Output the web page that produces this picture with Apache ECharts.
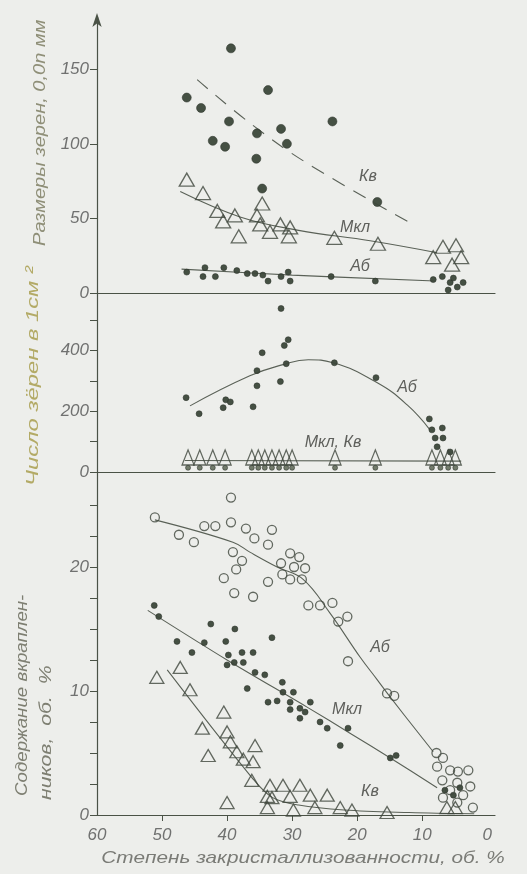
<!DOCTYPE html>
<html><head><meta charset="utf-8">
<script src="https://cdn.jsdelivr.net/npm/echarts@6/dist/echarts.min.js"></script>
<style>html,body{margin:0;padding:0;background:#edeeeb;}#c{width:527px;height:874px;}</style>
</head><body><div id="c"></div>
<script>
// ---- axes ----
const xTickLabels = [60, 50, 40, 30, 20, 10, 0];
const xTicks = [50, 40, 30, 20, 10];
const topYTicks = [0, 50, 100, 150];
const midYTicks = [0, 100, 200, 300, 400, 500];
const midYLabels = [0, 200, 400];
const botYTicks = [0, 2.5, 5, 7.5, 10, 12.5, 15, 17.5, 20, 22.5, 25];
const botYLabels = [0, 10, 20];

// ---- top panel: grain size ----
const topKvDots = [[46.2,131],[44.0,124],[39.4,164],[39.7,115],[42.2,102],[40.3,98],[35.4,107],[35.5,90],[34.6,70],[33.7,136],[31.7,110],[30.8,100],[23.8,115],[16.9,61]];
const topKvLine = [[44.6,143],[36.5,114],[27.7,87],[11.4,46]];
const topMklTri = [[46.2,76],[43.7,67],[41.5,55],[38.8,52],[40.6,48],[38.2,38],[34.6,60],[35.4,52],[34.9,46],[33.4,41],[31.8,46],[30.3,44],[30.5,38],[23.5,37],[16.8,33],[8.3,24],[6.8,31],[4.8,32],[4.0,24],[5.4,19]];
const topMklLine = [[47.2,68],[38,51],[29,42],[18,35],[7.7,27]];
const topAbDots = [[46.2,14],[43.7,11],[43.4,17],[40.5,17],[41.8,11],[38.5,15],[36.9,13],[35.7,13],[34.5,12],[33.7,8],[31.7,11],[30.6,14],[30.3,8],[24.0,11],[17.2,8],[8.3,9],[6.9,11],[5.7,7],[4.6,4],[3.7,7],[6.0,2],[5.2,10]];
const topAbLine = [[47,16],[30,12],[8,8]];

// ---- middle panel: grains per cm2 ----
const midAbDots = [[46.3,245],[44.3,192],[40.2,238],[40.6,212],[39.5,231],[35.4,334],[35.4,284],[36.0,215],[34.6,393],[31.7,539],[30.6,436],[31.2,417],[30.9,357],[31.8,298],[23.5,360],[17.1,311],[8.9,175],[8.5,139],[6.9,145],[8.0,112],[6.8,112],[7.7,83],[5.7,66]];
const midAbLine = [[45.7,218],[36.5,317],[31.4,354],[27.5,370],[23.7,360],[16.9,294],[12.3,221],[8.8,139]];
const midMklKvTri = [[46.0,48],[44.2,48],[42.2,48],[40.3,48],[36.2,48],[35.2,48],[34.2,48],[33.1,48],[32.0,48],[30.9,48],[30.0,48],[23.4,48],[17.2,48],[8.5,48],[7.2,48],[6.0,48],[4.9,48]];
const midKvDots = [[46.0,14],[44.2,14],[42.2,14],[40.3,14],[36.2,14],[35.2,14],[34.2,14],[33.1,14],[32.0,14],[30.9,14],[30.0,14],[23.4,14],[17.2,14],[8.5,14],[7.2,14],[6.0,14],[4.9,14]];
const midMklKvLine = [[46.5,38],[4,36]];

// ---- bottom panel: phenocryst content ----
const botAbCircles = [[51.1,24.0],[47.4,22.6],[45.1,22.0],[43.5,23.3],[41.8,23.3],[39.4,25.6],[39.4,23.6],[37.1,23.1],[35.8,22.3],[39.1,21.2],[37.7,20.5],[38.6,19.8],[40.5,19.1],[38.9,17.9],[36.0,17.6],[33.7,18.8],[33.7,21.8],[33.1,23.0],[30.3,21.1],[28.9,20.8],[31.7,20.3],[29.7,20.0],[28.0,19.9],[31.5,19.4],[30.3,19.0],[28.5,19.0],[27.5,16.9],[25.7,16.9],[23.8,17.1],[22.9,15.6],[21.5,16.0],[21.4,12.4],[15.4,9.8],[14.3,9.6],[7.8,5.0],[6.8,4.6],[7.7,3.9],[5.7,3.6],[4.5,3.5],[2.9,3.6],[6.9,2.8],[4.6,2.6],[2.6,2.3],[5.7,2.0],[3.7,1.6],[6.8,1.4],[2.2,0.6],[4.6,1.0]];
const botAbLine = [[51.1,23.8],[39.1,22.0],[36.5,21.2],[32.3,20.0],[28.3,19.0],[24.2,16.3],[19.5,12.7],[16.9,10.9],[14.9,9.5],[8.3,5.1]];
const botMklDots = [[51.2,16.9],[50.5,16.0],[42.5,15.4],[38.8,15.0],[47.7,14.0],[43.5,13.9],[40.2,14.0],[45.4,13.1],[39.8,12.9],[37.7,13.1],[36.0,13.1],[33.1,14.3],[40.0,12.1],[38.9,12.3],[37.5,12.3],[35.7,11.5],[34.2,11.3],[36.9,10.2],[31.5,10.7],[31.4,9.9],[29.8,9.9],[33.7,9.1],[32.3,9.2],[30.3,9.1],[27.2,9.1],[30.3,8.5],[28.8,8.6],[28.0,8.3],[28.8,7.8],[25.7,7.5],[24.6,7.0],[21.4,7.0],[22.6,5.6],[14.9,4.6],[14.0,4.8],[6.5,2.0],[5.2,1.6],[4.2,2.2]];
const botMklLine = [[52.2,16.5],[40,12.5],[27.7,8.7],[21.1,6.6],[14.9,4.6],[7.7,2.2]];
const botKvTri = [[50.8,11.1],[47.2,11.9],[45.7,10.1],[40.5,8.3],[43.8,7.0],[40.0,6.7],[39.5,5.9],[35.7,5.6],[38.5,5.1],[37.5,4.5],[42.9,4.8],[36.0,4.3],[36.2,2.8],[40.0,1.0],[33.8,1.5],[33.8,0.6],[33.4,2.4],[31.4,2.4],[28.8,2.4],[33.1,1.4],[30.3,1.5],[27.2,1.6],[24.6,1.6],[29.8,0.4],[26.5,0.6],[22.6,0.6],[20.8,0.4],[15.4,0.2],[6.2,0.6],[4.9,0.6]];
const botKvLine = [[49.2,11.7],[36,2.9],[33,1.4],[29,0.8],[22,0.4],[12,0.2],[2,0.1]];

const INK = '#4a5246';
const DOT = '#3c473a';
const TXT = '#707170';
const BG = '#edeeeb';
const FONT = 'Liberation Sans';

function xAx(i, bottom) {
  return {
    type: 'value', gridIndex: i, min: -1.2, max: 60, inverse: true,
    axisLine: { show: true, lineStyle: { color: INK, width: 1.2 } },
    axisTick: bottom ? { show: true, customValues: xTicks, length: 6, lineStyle: { color: INK } } : { show: false },
    axisLabel: bottom ? { show: true, customValues: xTickLabels, margin: 12, fontSize: 17, fontStyle: 'italic', fontFamily: FONT, color: TXT } : { show: false },
    splitLine: { show: false }
  };
}
function yAx(i, max, ticks, labels, arrow) {
  return {
    type: 'value', gridIndex: i, min: 0, max: max,
    axisLine: { show: true, onZero: false, symbol: arrow ? ['none', 'arrow'] : 'none', symbolSize: [7, 14], symbolOffset: [0, 4], lineStyle: { color: INK, width: 1.2 } },
    axisTick: { show: true, customValues: ticks, length: 7, lineStyle: { color: INK } },
    axisLabel: { show: true, customValues: labels, margin: 8, fontSize: 17, fontStyle: 'italic', fontFamily: FONT, color: TXT },
    splitLine: { show: false }
  };
}
function dots(i, data, size, color) {
  return { type: 'scatter', xAxisIndex: i, yAxisIndex: i, data: data, symbol: 'circle', symbolSize: size,
    itemStyle: { color: color || DOT, borderColor: '#2e362c', borderWidth: 0.6, opacity: 0.95 }, z: 3 };
}
function openSym(i, data, sym, size) {
  return { type: 'scatter', xAxisIndex: i, yAxisIndex: i, data: data, symbol: sym, symbolSize: size,
    itemStyle: { color: 'rgba(0,0,0,0)', borderColor: '#3f463c', borderWidth: 1.3 }, z: 4 };
}
function curve(i, data, smooth, dashed) {
  return { type: 'line', xAxisIndex: i, yAxisIndex: i, data: data, showSymbol: false, smooth: smooth,
    lineStyle: { color: '#5a6157', width: 1.1, type: dashed ? [14, 10] : 'solid' }, z: 2, silent: true };
}
function lbl(text, x, y) {
  return { type: 'text', x: x, y: y, style: { text: text, font: 'italic 16px "' + FONT + '"', fill: '#5f605c', textAlign: 'center', textVerticalAlign: 'middle' } };
}
function vtext(text, x, y, color, size, sx) {
  return { type: 'text', x: x, y: y, rotation: Math.PI / 2, scaleX: sx,
    style: { text: text, font: 'italic ' + size + 'px "' + FONT + '"', fill: color, textAlign: 'left', textVerticalAlign: 'middle' } };
}

const chart = echarts.init(document.getElementById('c'), null, { renderer: 'canvas' });
chart.setOption({
  backgroundColor: BG,
  animation: false,
  grid: [
    { left: 97, right: 32, top: 17, height: 276 },
    { left: 97, right: 32, top: 293, height: 179 },
    { left: 97, right: 32, top: 472, height: 343 }
  ],
  xAxis: [xAx(0, false), xAx(1, false), xAx(2, true)],
  yAxis: [
    yAx(0, 185, topYTicks, topYTicks, true),
    yAx(1, 590, midYTicks, midYLabels, false),
    yAx(2, 27.66, botYTicks, botYLabels, false)
  ],
  series: [
    curve(0, topKvLine, 0.4, true),
    curve(0, topMklLine, 0.4, false),
    curve(0, topAbLine, 0.4, false),
    dots(0, topKvDots, 9),
    openSym(0, topMklTri, 'triangle', [15, 13]),
    dots(0, topAbDots, 6),

    curve(1, midAbLine, 0.45, false),
    curve(1, midMklKvLine, false, false),
    dots(1, midKvDots, 5, '#6b7464'),
    openSym(1, midMklKvTri, 'triangle', [12, 15]),
    dots(1, midAbDots, 6),

    curve(2, botAbLine, 0.4, false),
    curve(2, botMklLine, 0.3, false),
    curve(2, botKvLine, 0.35, false),
    openSym(2, botAbCircles, 'circle', 9),
    dots(2, botMklDots, 6),
    openSym(2, botKvTri, 'triangle', [14, 12])
  ],
  graphic: [
    lbl('Кв', 368, 177), lbl('Мкл', 355, 228), lbl('Аб', 360, 267),
    lbl('Аб', 407, 388), lbl('Мкл, Кв', 333, 443),
    lbl('Аб', 380, 648), lbl('Мкл', 347, 710), lbl('Кв', 370, 792),
    vtext('Размеры зерен, 0,0n мм', 40, 246, '#8f8f78', 17, 1.18),
    vtext('Число зёрен в 1см ²', 33, 486, '#b3aa66', 17, 1.4),
    vtext('Содержание вкраплен-', 22, 796, '#7e7f72', 17, 1.1),
    vtext('ников,  об.  %', 46, 800, '#7e7f72', 17, 1.25),
    { type: 'text', x: 303, y: 858, scaleX: 1.22, style: { text: 'Степень закристаллизованности, об. %', font: 'italic 17px "' + FONT + '"', fill: '#7a7b76', textAlign: 'center', textVerticalAlign: 'middle' } }
  ]
});
</script>
</body></html>
